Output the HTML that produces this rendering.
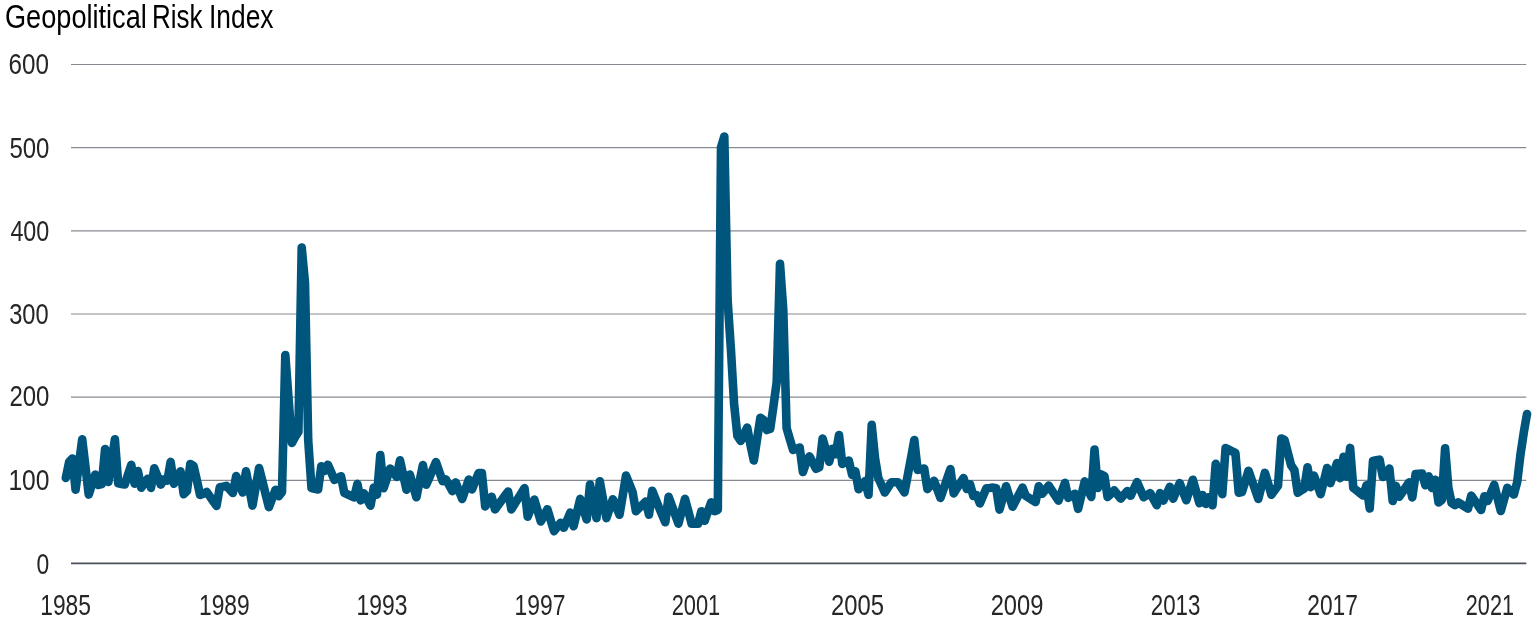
<!DOCTYPE html>
<html><head><meta charset="utf-8"><style>
html,body{margin:0;padding:0;background:#fff;}
svg{display:block;}
text{will-change:transform;}
.ax{font-family:"Liberation Sans",sans-serif;font-size:29.5px;fill:#262626;}
.tt{font-family:"Liberation Sans",sans-serif;font-size:33px;fill:#000;}
</style></head><body>
<svg width="1532" height="620" viewBox="0 0 1532 620">
<rect width="1532" height="620" fill="#fff"/>
<text x="5" y="28" class="tt" textLength="141.8" lengthAdjust="spacingAndGlyphs">Geopolitical</text>
<text x="152" y="28" class="tt" textLength="50.5" lengthAdjust="spacingAndGlyphs">Risk</text>
<text x="209" y="28" class="tt" textLength="64.5" lengthAdjust="spacingAndGlyphs">Index</text>
<line x1="71" x2="1526.3" y1="563.35" y2="563.35" stroke="#4b515b" stroke-width="1.6"/>
<line x1="71" x2="1526.3" y1="480.33" y2="480.33" stroke="#878a91" stroke-width="1.1"/>
<line x1="71" x2="1526.3" y1="397.17" y2="397.17" stroke="#878a91" stroke-width="1.1"/>
<line x1="71" x2="1526.3" y1="314.00" y2="314.00" stroke="#878a91" stroke-width="1.1"/>
<line x1="71" x2="1526.3" y1="230.83" y2="230.83" stroke="#878a91" stroke-width="1.1"/>
<line x1="71" x2="1526.3" y1="147.66" y2="147.66" stroke="#878a91" stroke-width="1.1"/>
<line x1="71" x2="1526.3" y1="64.50" y2="64.50" stroke="#878a91" stroke-width="1.1"/>
<text x="36.50" y="573.50" class="ax" textLength="12.75" lengthAdjust="spacingAndGlyphs">0</text>
<text x="8.40" y="490.21" class="ax" textLength="41.12" lengthAdjust="spacingAndGlyphs">100</text>
<text x="9.40" y="406.49" class="ax" textLength="39.98" lengthAdjust="spacingAndGlyphs">200</text>
<text x="9.20" y="324.20" class="ax" textLength="39.53" lengthAdjust="spacingAndGlyphs">300</text>
<text x="10.40" y="240.71" class="ax" textLength="38.95" lengthAdjust="spacingAndGlyphs">400</text>
<text x="9.40" y="157.82" class="ax" textLength="39.98" lengthAdjust="spacingAndGlyphs">500</text>
<text x="8.60" y="73.90" class="ax" textLength="40.38" lengthAdjust="spacingAndGlyphs">600</text>
<text x="40.30" y="614.50" class="ax" textLength="50.66" lengthAdjust="spacingAndGlyphs">1985</text>
<text x="199.00" y="614.50" class="ax" textLength="50.70" lengthAdjust="spacingAndGlyphs">1989</text>
<text x="356.50" y="614.50" class="ax" textLength="50.91" lengthAdjust="spacingAndGlyphs">1993</text>
<text x="514.60" y="614.50" class="ax" textLength="50.75" lengthAdjust="spacingAndGlyphs">1997</text>
<text x="671.70" y="614.50" class="ax" textLength="48.58" lengthAdjust="spacingAndGlyphs">2001</text>
<text x="831.00" y="614.50" class="ax" textLength="52.98" lengthAdjust="spacingAndGlyphs">2005</text>
<text x="990.70" y="614.50" class="ax" textLength="52.73" lengthAdjust="spacingAndGlyphs">2009</text>
<text x="1150.80" y="614.50" class="ax" textLength="49.62" lengthAdjust="spacingAndGlyphs">2013</text>
<text x="1307.30" y="614.50" class="ax" textLength="50.63" lengthAdjust="spacingAndGlyphs">2017</text>
<text x="1465.80" y="614.50" class="ax" textLength="48.17" lengthAdjust="spacingAndGlyphs">2021</text>

<polyline points="65.8,478.0 69.1,462.0 72.4,458.5 75.6,489.7 78.9,464.5 82.2,439.3 85.5,466.9 88.7,494.6 92.0,484.6 95.3,474.6 98.6,484.9 101.8,484.0 105.1,449.0 108.4,481.9 111.7,460.6 114.9,439.3 118.2,483.3 121.5,483.9 124.8,484.5 128.0,474.7 131.3,464.9 134.6,483.7 137.9,471.0 141.2,487.7 144.4,483.2 147.7,478.8 151.0,487.9 154.3,468.2 157.5,476.4 160.8,484.6 164.1,479.4 167.4,480.6 170.6,461.9 173.9,483.7 177.2,477.5 180.5,471.3 183.7,494.2 187.0,491.0 190.3,464.0 193.6,466.0 196.8,480.0 200.1,495.0 203.4,493.8 206.7,491.9 210.0,496.6 213.2,501.2 216.5,505.9 219.8,487.3 223.1,486.6 226.3,485.8 229.6,489.4 232.9,493.0 236.2,476.0 239.4,484.2 242.7,492.5 246.0,471.3 249.3,488.4 252.5,505.6 255.8,486.8 259.1,468.0 262.4,481.1 265.6,494.1 268.9,507.1 272.2,498.5 275.5,489.8 278.8,496.1 282.0,492.0 285.3,355.0 288.6,399.0 291.9,443.0 295.1,437.0 298.4,432.0 301.7,247.5 305.0,283.0 308.2,440.0 311.5,488.0 314.8,488.8 318.1,489.5 321.3,466.2 324.6,471.0 327.9,464.7 331.2,472.3 334.4,479.9 337.7,478.1 341.0,476.2 344.3,492.8 347.6,494.4 350.8,495.9 354.1,497.5 357.4,483.9 360.7,500.4 363.9,493.4 367.2,499.5 370.5,505.6 373.8,487.6 377.0,494.6 380.3,455.1 383.6,488.2 386.9,478.3 390.1,468.5 393.4,472.7 396.7,476.9 400.0,460.3 403.2,475.0 406.5,489.7 409.8,474.5 413.1,485.9 416.4,497.3 419.6,481.1 422.9,465.0 426.2,484.7 429.5,477.2 432.7,469.6 436.0,462.1 439.3,471.6 442.6,481.2 445.8,479.3 449.1,485.2 452.4,491.1 455.7,482.4 458.9,490.7 462.2,499.0 465.5,489.2 468.8,479.5 472.0,489.4 475.3,481.2 478.6,473.1 481.9,473.1 485.2,506.5 488.4,501.6 491.7,496.8 495.0,509.4 498.3,504.9 501.5,500.4 504.8,495.9 508.1,491.5 511.4,509.4 514.6,504.0 517.9,498.7 521.2,493.4 524.5,488.1 527.7,516.7 531.0,508.2 534.3,499.6 537.6,510.6 540.8,521.5 544.1,515.4 547.4,509.2 550.7,520.2 554.0,531.1 557.2,527.0 560.5,522.9 563.8,527.7 567.1,520.2 570.3,512.6 573.6,526.3 576.9,512.6 580.2,498.9 583.4,509.2 586.7,519.5 590.0,484.5 593.3,501.3 596.5,518.1 599.8,481.3 603.1,499.7 606.4,518.1 609.6,508.6 612.9,499.2 616.2,506.9 619.5,514.7 622.8,495.1 626.0,475.6 629.3,483.8 632.6,492.0 635.9,511.2 639.1,508.0 642.4,504.8 645.7,501.6 649.0,514.7 652.2,490.7 655.5,498.9 658.8,507.1 662.1,514.7 665.3,522.2 668.6,496.8 671.9,505.8 675.2,514.7 678.4,523.6 681.7,511.2 685.0,498.9 688.3,511.2 691.6,523.6 694.8,523.6 698.1,523.6 701.4,511.2 704.7,520.8 707.9,511.6 711.2,502.3 714.5,511.2 717.8,510.0 721.0,147.5 724.3,136.5 727.6,300.0 730.9,349.0 734.1,404.0 737.4,436.0 740.7,441.0 744.0,434.0 747.2,427.6 750.5,445.0 753.8,460.5 757.1,439.0 760.4,417.7 763.6,420.0 766.9,430.0 770.2,429.0 773.5,405.8 776.7,382.0 780.0,263.8 783.3,310.0 786.6,428.0 789.8,439.0 793.1,449.9 796.4,448.7 799.7,447.5 802.9,472.0 806.2,462.3 809.5,456.4 812.8,462.5 816.0,468.7 819.3,467.3 822.6,438.5 825.9,450.2 829.2,461.8 832.4,448.8 835.7,454.3 839.0,435.1 842.3,463.9 845.5,462.2 848.8,460.5 852.1,474.9 855.4,471.4 858.6,489.3 861.9,485.2 865.2,481.0 868.5,494.8 871.7,424.9 875.0,458.0 878.3,478.0 881.6,485.2 884.8,492.5 888.1,487.4 891.4,482.2 894.7,482.2 898.0,482.2 901.2,487.4 904.5,492.5 907.8,475.0 911.1,457.5 914.3,440.0 917.6,469.9 920.9,469.2 924.2,468.5 927.4,489.1 930.7,485.0 934.0,480.8 937.3,489.4 940.5,497.9 943.8,488.3 947.1,478.7 950.4,469.1 953.7,493.4 956.9,488.3 960.2,483.1 963.5,478.0 966.8,489.0 970.0,484.2 973.3,495.8 976.6,495.2 979.9,503.4 983.1,495.8 986.4,488.3 989.7,488.0 993.0,487.6 996.2,488.3 999.5,509.6 1002.8,497.9 1006.1,486.2 1009.3,496.5 1012.6,506.8 1015.9,500.4 1019.2,494.0 1022.5,487.6 1025.7,495.8 1029.0,497.9 1032.3,500.0 1035.6,502.0 1038.8,486.2 1042.1,493.8 1045.4,489.7 1048.7,485.6 1051.9,490.6 1055.2,495.6 1058.5,500.6 1061.8,491.7 1065.0,482.8 1068.3,497.9 1071.6,495.8 1074.9,493.8 1078.1,508.9 1081.4,495.2 1084.7,481.4 1088.0,490.0 1091.3,497.0 1094.5,449.5 1097.8,488.0 1101.1,474.4 1104.4,476.0 1107.6,497.0 1110.9,493.8 1114.2,490.4 1117.5,494.5 1120.7,498.6 1124.0,494.8 1127.3,491.0 1130.6,495.8 1133.8,489.0 1137.1,482.1 1140.4,489.7 1143.7,497.2 1146.9,495.2 1150.2,493.1 1153.5,499.1 1156.8,505.2 1160.1,493.1 1163.3,500.6 1166.6,493.8 1169.9,486.9 1173.2,498.7 1176.4,490.9 1179.7,483.1 1183.0,491.7 1186.3,500.2 1189.5,490.0 1192.8,479.7 1196.1,491.4 1199.4,503.2 1202.6,495.0 1205.9,503.9 1209.2,497.0 1212.5,505.3 1215.7,463.9 1219.0,479.0 1222.3,494.1 1225.6,448.1 1228.9,449.7 1232.1,451.3 1235.4,452.9 1238.7,492.7 1242.0,492.0 1245.2,481.4 1248.5,470.8 1251.8,480.1 1255.1,489.5 1258.3,498.9 1261.6,485.8 1264.9,472.8 1268.2,483.8 1271.4,494.8 1274.7,490.3 1278.0,485.8 1281.3,438.5 1284.5,439.9 1287.8,452.6 1291.1,465.3 1294.4,470.1 1297.7,492.7 1300.9,490.6 1304.2,488.6 1307.5,467.3 1310.8,487.2 1314.0,475.6 1317.3,484.8 1320.6,494.1 1323.9,481.0 1327.1,468.0 1330.4,483.1 1333.7,473.1 1337.0,463.0 1340.2,478.1 1343.5,456.8 1346.8,476.7 1350.1,447.9 1353.3,487.9 1356.6,490.4 1359.9,493.0 1363.2,495.5 1366.5,485.2 1369.7,508.5 1373.0,461.0 1376.3,460.3 1379.6,459.6 1382.8,477.0 1386.1,472.8 1389.4,468.6 1392.7,501.0 1395.9,485.9 1399.2,496.8 1402.5,492.0 1405.8,487.2 1409.0,482.4 1412.3,497.5 1415.6,474.1 1418.9,473.8 1422.1,473.6 1425.4,485.3 1428.7,476.4 1432.0,488.0 1435.3,479.8 1438.5,502.4 1441.8,500.0 1445.1,448.2 1448.4,488.0 1451.6,503.0 1454.9,505.2 1458.2,502.4 1461.5,504.5 1464.7,506.5 1468.0,508.6 1471.3,495.6 1474.6,500.4 1477.8,505.2 1481.1,510.0 1484.4,496.2 1487.7,501.0 1490.9,492.9 1494.2,484.8 1497.5,497.9 1500.8,511.0 1504.1,499.4 1507.3,487.8 1510.6,491.9 1513.9,494.5 1517.2,482.0 1520.4,455.0 1523.7,433.0 1527.0,414.0" fill="none" stroke="#00557d" stroke-width="8.6" stroke-linejoin="round" stroke-linecap="round"/>
</svg>
</body></html>
